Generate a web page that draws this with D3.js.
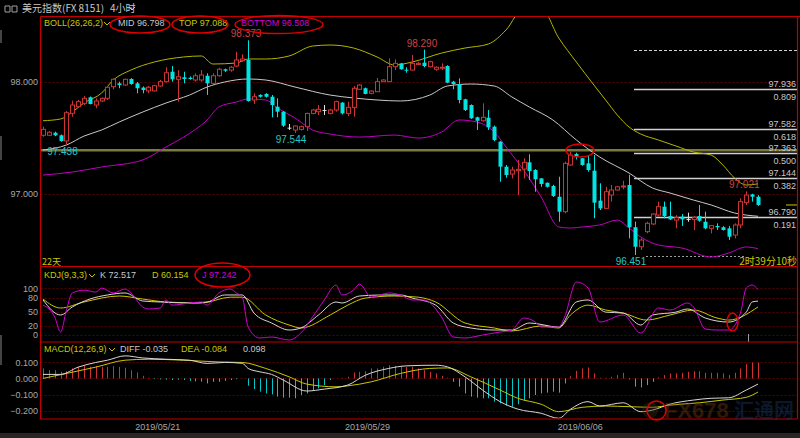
<!DOCTYPE html>
<html><head><meta charset="utf-8">
<script src="https://cdn.jsdelivr.net/npm/d3@7"></script>
<style>
html,body{margin:0;padding:0;background:#000;overflow:hidden}
svg{display:block}
text{font-family:"Liberation Sans",Arial,sans-serif;font-size:9px}
</style></head><body>
<svg id="c" width="800" height="438"></svg>
<script>
// ---------- DATA ----------
const opens=[97.523,97.523,97.546,97.523,97.472,97.720,97.779,97.809,97.863,97.794,97.830,97.854,97.958,97.988,97.973,98.027,97.988,97.950,97.920,97.920,97.964,98.003,98.092,98.024,98.042,98.038,98.018,98.018,98.056,97.988,98.056,98.114,98.107,98.143,98.191,98.197,97.839,97.884,97.893,97.868,97.779,97.734,97.591,97.570,97.576,97.600,97.719,97.734,97.749,97.719,97.749,97.815,97.719,97.773,97.935,97.944,97.899,97.913,98.003,98.003,98.137,98.167,98.110,98.107,98.157,98.173,98.137,98.114,98.128,98.143,98.003,97.982,97.845,97.794,97.684,97.653,97.680,97.600,97.466,97.242,97.176,97.206,97.221,97.281,97.212,97.137,97.098,97.069,96.973,96.839,97.257,97.355,97.317,97.272,97.206,96.938,96.869,96.988,97.033,97.065,97.078,96.700,96.525,96.660,96.729,96.809,96.884,96.800,96.764,96.794,96.773,96.770,96.800,96.749,96.690,96.711,96.700,96.690,96.630,96.720,96.920,96.994,96.973];
const highs=[97.600,97.560,97.555,97.530,97.740,97.833,97.840,97.874,97.870,97.854,97.860,97.964,98.033,98.003,98.030,98.035,98.000,97.960,97.964,97.975,98.018,98.132,98.143,98.107,98.092,98.050,98.078,98.107,98.078,98.078,98.128,98.120,98.143,98.271,98.248,98.373,97.899,97.890,97.900,97.884,97.854,97.740,97.624,97.610,97.610,97.725,97.760,97.794,97.794,97.760,97.833,97.820,97.824,97.964,97.980,97.950,97.925,98.036,98.025,98.212,98.203,98.170,98.132,98.242,98.180,98.290,98.190,98.140,98.167,98.150,98.010,98.033,97.850,97.800,97.690,97.809,97.749,97.610,97.470,97.257,97.242,97.302,97.317,97.353,97.220,97.140,97.100,97.080,97.152,97.287,97.376,97.367,97.320,97.346,97.346,97.093,97.062,97.078,97.070,97.116,97.170,96.750,96.600,96.749,96.825,96.929,96.929,96.929,96.809,96.818,96.830,96.800,96.899,96.839,96.720,96.735,96.710,96.711,96.735,96.959,97.021,97.000,96.988];
const lows=[97.510,97.515,97.515,97.465,97.438,97.689,97.770,97.794,97.800,97.765,97.820,97.839,97.935,97.944,97.965,97.975,97.899,97.899,97.899,97.915,97.958,97.994,98.003,97.824,97.988,98.020,98.003,98.003,97.884,97.982,98.047,98.090,98.092,98.132,98.180,97.824,97.803,97.860,97.860,97.684,97.684,97.597,97.570,97.544,97.565,97.561,97.710,97.705,97.705,97.710,97.734,97.710,97.696,97.689,97.930,97.890,97.890,97.910,98.000,98.000,98.107,98.110,98.083,98.105,98.150,98.132,98.130,98.100,98.107,97.990,97.935,97.809,97.740,97.670,97.570,97.645,97.570,97.470,97.107,97.143,97.137,96.988,97.137,97.123,97.018,97.062,97.055,96.970,96.749,96.824,97.250,97.307,97.250,97.197,96.780,96.854,96.865,96.930,97.030,97.040,96.600,96.451,96.496,96.645,96.720,96.794,96.780,96.764,96.690,96.711,96.749,96.675,96.749,96.681,96.645,96.675,96.670,96.585,96.600,96.690,96.899,96.929,96.890];
const closes=[97.576,97.550,97.523,97.472,97.725,97.794,97.824,97.854,97.803,97.830,97.854,97.953,98.024,97.973,98.024,97.982,97.944,97.928,97.953,97.967,98.003,98.083,98.024,98.047,98.027,98.027,98.056,98.063,97.988,98.056,98.114,98.101,98.132,98.197,98.206,97.830,97.868,97.868,97.868,97.794,97.734,97.609,97.591,97.606,97.600,97.719,97.749,97.755,97.749,97.749,97.824,97.719,97.773,97.944,97.973,97.893,97.919,98.003,98.018,98.137,98.167,98.114,98.107,98.167,98.167,98.143,98.182,98.132,98.132,97.994,97.982,97.839,97.749,97.675,97.653,97.684,97.594,97.480,97.242,97.167,97.212,97.218,97.281,97.203,97.129,97.087,97.062,96.979,96.839,97.272,97.346,97.331,97.257,97.212,96.920,96.869,97.018,97.033,97.062,97.069,96.700,96.525,96.585,96.735,96.818,96.884,96.800,96.770,96.785,96.770,96.773,96.788,96.758,96.690,96.714,96.700,96.675,96.615,96.720,96.929,96.988,96.973,96.899];

// Bollinger bands: [candle index, value]
const bollUpper=[[0,97.653],[3,97.669],[5,97.731],[7,97.812],[10,97.901],[12,98.018],[15,98.107],[19,98.179],[24,98.224],[27,98.233],[29,98.161],[33,98.170],[35,98.206],[38,98.206],[42,98.233],[46,98.322],[49,98.331],[53,98.304],[57,98.224],[60,98.152],[63,98.179],[68,98.259],[72,98.304],[76,98.340],[79,98.465],[82,98.66],[85,98.66],[88,98.394],[91,98.179],[94,97.973],[96,97.839],[98,97.704],[100,97.597],[102,97.534],[105,97.481],[108,97.427],[111,97.373],[114,97.346],[116,97.257],[118,97.140],[120,97.078],[122,97.088]];
const bollMid=[[0,97.391],[4,97.436],[7,97.516],[10,97.570],[13,97.642],[17,97.731],[21,97.812],[25,97.883],[28,97.955],[31,98.000],[35,98.027],[38,98.018],[43,97.955],[49,97.883],[53,97.857],[57,97.839],[61,97.830],[66,97.883],[69,97.964],[73,97.982],[77,97.964],[80,97.866],[83,97.776],[87,97.660],[91,97.481],[95,97.328],[100,97.185],[104,97.051],[107,97.006],[111,96.943],[114,96.899],[118,96.827],[122,96.798]];
const bollLower=[[0,97.167],[5,97.194],[10,97.239],[17,97.302],[21,97.418],[24,97.507],[28,97.660],[30,97.776],[33,97.821],[35,97.848],[38,97.839],[40,97.767],[43,97.678],[46,97.570],[49,97.534],[54,97.507],[60,97.525],[64,97.498],[68,97.552],[71,97.660],[74,97.642],[77,97.552],[79,97.418],[82,97.212],[85,96.970],[88,96.702],[90,96.693],[92,96.702],[95,96.720],[98,96.764],[100,96.693],[102,96.612],[105,96.541],[109,96.514],[114,96.433],[117,96.469],[120,96.523],[122,96.508]];

// KDJ(9,3,3)
const kdjK=[[0,75],[3,42.8],[5,60],[8,77],[11,85.7],[14,90],[17,72.8],[20,70.7],[25,68.5],[28,70.7],[31,85.7],[34,85.7],[36,47],[39,25.7],[42,10.7],[44,15],[47,42.8],[50,70.7],[51,68.5],[54,83.5],[58,85.7],[61,85.7],[63,79],[67,64],[70,25.7],[73,15],[77,10.7],[80,10.7],[83,25.7],[88,17],[91,70.7],[93,75],[96,49],[99,47],[102,21.4],[104,42.8],[108,49],[110,55.7],[113,36.4],[117,27.8],[120,49],[121,70.7],[122,72.517]];
const kdjD=[[0,77],[3,57.8],[7,70.7],[13,83.5],[17,77],[21,70.7],[27,68.5],[32,81],[34,81],[38,42.8],[42,21.4],[44,15],[49,42.8],[52,64],[55,79],[60,83.5],[64,81],[67,70.7],[72,25.7],[77,15],[80,8.6],[85,19.3],[88,15],[90,42.8],[93,64],[96,53.5],[99,47],[103,32],[107,42.8],[111,53.5],[115,36.4],[117,32],[122,60.154]];
const kdjJ=[[0,64],[2,38.5],[3,6.4],[4,53.5],[5,90],[7,96],[9,92],[10,100.6],[12,90],[14,98.5],[15,90],[17,60],[18,55.7],[20,57.8],[21,75],[22,64],[25,68.5],[27,70.7],[28,64],[30,90],[32,98.5],[33,90],[34,81],[35,17],[37,-6.4],[39,-4.3],[42,-10.7],[44,4.3],[46,38.5],[48,75],[50,107],[51,85.7],[53,96.4],[54,109],[56,81],[59,90],[61,85.7],[63,75],[65,75],[68,38.5],[70,-4.3],[72,-6.4],[75,0],[78,6.4],[80,10.7],[82,36.4],[84,27.8],[85,17],[88,17],[89,38.5],[91,113.5],[93,100.6],[95,27.8],[99,42.8],[102,4.3],[105,57.8],[107,53.5],[110,68.5],[111,60],[113,12.8],[115,10.7],[117,10.7],[119,47],[120,100.6],[121,107],[122,97.242]];

// MACD(12,26,9)
const macdDiff=[[0,0.025],[3,0.025],[6,0.070],[9,0.099],[11,0.113],[14,0.140],[17,0.127],[21,0.119],[25,0.113],[28,0.093],[31,0.099],[34,0.094],[35,0.062],[37,0.041],[39,0.025],[41,-0.010],[45,-0.078],[48,-0.066],[52,-0.041],[55,0.020],[59,0.062],[62,0.078],[67,0.082],[69,0.072],[72,0.010],[75,-0.072],[78,-0.144],[81,-0.190],[85,-0.216],[88,-0.247],[90,-0.191],[93,-0.144],[95,-0.171],[99,-0.151],[102,-0.206],[104,-0.196],[107,-0.159],[111,-0.134],[114,-0.123],[117,-0.120],[120,-0.072],[122,-0.035]];
const macdDea=[[0,0.000],[4,0.031],[9,0.070],[14,0.113],[18,0.119],[24,0.113],[30,0.102],[34,0.099],[38,0.062],[42,0.010],[45,-0.035],[50,-0.052],[52,-0.046],[56,-0.021],[61,0.031],[66,0.062],[69,0.065],[73,0.010],[78,-0.072],[81,-0.123],[85,-0.160],[88,-0.206],[92,-0.179],[96,-0.171],[100,-0.175],[104,-0.179],[107,-0.165],[112,-0.151],[116,-0.134],[120,-0.117],[122,-0.084]];
const macdHist=[0.062,0.051,0.051,0.041,0.045,0.062,0.072,0.078,0.072,0.078,0.072,0.072,0.076,0.072,0.066,0.051,0.037,0.016,0.004,-0.004,-0.006,-0.008,-0.010,-0.008,-0.010,-0.015,-0.018,-0.020,-0.031,-0.021,-0.021,-0.015,-0.010,-0.005,0.000,-0.045,-0.066,-0.082,-0.093,-0.099,-0.113,-0.119,-0.119,-0.123,-0.103,-0.093,-0.072,-0.062,-0.041,-0.010,0.000,0.004,0.010,0.037,0.041,0.045,0.062,0.062,0.072,0.082,0.078,0.078,0.072,0.072,0.062,0.051,0.041,0.031,0.016,0.004,-0.021,-0.051,-0.093,-0.113,-0.119,-0.123,-0.123,-0.144,-0.154,-0.169,-0.175,-0.160,-0.134,-0.123,-0.103,-0.093,-0.088,-0.082,-0.088,-0.031,0.014,0.047,0.062,0.068,0.031,0.004,0.004,0.010,0.021,0.035,-0.006,-0.051,-0.056,-0.041,-0.021,0.006,0.021,0.031,0.031,0.035,0.041,0.045,0.045,0.035,0.035,0.035,0.031,0.021,0.035,0.062,0.088,0.099,0.098];

// ticks / labels
const priceTicks=[97,98];
const kdjTicks=[100,80,50,20,0];
const macdTicks=[0.1,0,-0.1,-0.2];
const dateTickIdx=[19.5,55.3,91.6];
const dateTickLabels=["2019/05/21","2019/05/29","2019/06/06"];
const fibValues=[97.936,97.582,97.363,97.144,96.790];
const fibRatios=["0.809","0.618","0.500","0.382","0.191"];
const fibHigh=98.290, fibLow=96.451;
const hLineValue=97.388;
const extremes=[{i:35,v:98.373,t:"h"},{i:65,v:98.290,t:"h"},{i:120,v:97.021,t:"h"},{i:4,v:97.438,t:"l"},{i:43,v:97.544,t:"l"},{i:101,v:96.451,t:"l"}];
const bollHeader={mid:"96.798",top:"97.088",bottom:"96.508"};
const kdjHeader={k:"72.517",d:"60.154",j:"97.242"};
const macdHeader={diff:"-0.035",dea:"-0.084",macd:"0.098"};

// ---------- DRAW ----------
const svg=d3.select("#c");
const RED="#c00000", UP="#cc3535", DN="#00e4e4", GRID="#5a0000";
const L=40.5, R=797.5;
const x=d3.scaleLinear().domain([0,122]).range([43,758]);
const yP=d3.scaleLinear().domain([97,98]).range([193.7,82]);
const yK=d3.scaleLinear().domain([0,100]).range([335,288.3]);
const yM=d3.scaleLinear().domain([-0.2,0.1]).range([410.7,362.3]);

svg.append("rect").attr("width",800).attr("height",438).attr("fill","#000");
svg.append("rect").attr("x",0).attr("y",433).attr("width",800).attr("height",5).attr("fill","#262626");
svg.append("path").attr("d","M1,30V43M1,136V160M1,335V365").attr("stroke","#444").attr("stroke-width",2);

const defs=svg.append("defs");
defs.append("clipPath").attr("id","cpP").append("rect").attr("x",41).attr("y",17).attr("width",756).attr("height",249);
defs.append("clipPath").attr("id","cpK").append("rect").attr("x",41).attr("y",267).attr("width",756).attr("height",74.5);
defs.append("clipPath").attr("id","cpM").append("rect").attr("x",41).attr("y",342.5).attr("width",756).attr("height",76);

function grid(vals,sc){vals.forEach(v=>svg.append("line").attr("x1",L).attr("x2",R).attr("y1",Math.round(sc(v))+0.5).attr("y2",Math.round(sc(v))+0.5).attr("stroke",GRID).attr("stroke-dasharray","2,2"));}
grid(priceTicks,yP);grid(kdjTicks,yK);grid(macdTicks,yM);

function leftAxis(sc,vals,fmt){
  const g=svg.append("g").attr("transform","translate(39,0)").call(d3.axisLeft(sc).tickValues(vals).tickSize(0).tickPadding(1).tickFormat(fmt));
  g.select(".domain").remove();
  g.selectAll("text").attr("fill","#a8a8a8").style("font-size","9px").style("font-family","Liberation Sans");
}
leftAxis(yP,priceTicks,d3.format(".3f"));
leftAxis(yK,kdjTicks,d3.format("d"));
leftAxis(yM,macdTicks,d3.format(".3f"));

const gx=svg.append("g").attr("transform","translate(0,422)").call(d3.axisBottom(x).tickValues(dateTickIdx).tickSize(0).tickPadding(2).tickFormat((d,i)=>dateTickLabels[i]));
gx.select(".domain").remove();
gx.selectAll("text").attr("fill","#a8a8a8").style("font-size","9px");

// ---- price panel ----
const gp=svg.append("g").attr("clip-path","url(#cpP)");
gp.append("line").attr("x1",L).attr("x2",R).attr("y1",yP(hLineValue)).attr("y2",yP(hLineValue)).attr("stroke","#7a7a3c").attr("stroke-width",2.5);
fibValues.forEach((v,k)=>{
  const yy=Math.round(yP(v))+0.5;
  gp.append("line").attr("x1",634).attr("x2",R).attr("y1",yy).attr("y2",yy).attr("stroke","#d0d0d0").attr("stroke-width",1.3);
  svg.append("text").attr("x",796).attr("y",yy-3).attr("text-anchor","end").attr("fill","#c8c8c8").text(v.toFixed(3));
  svg.append("text").attr("x",796).attr("y",yy+10).attr("text-anchor","end").attr("fill","#c8c8c8").text(fibRatios[k]);
});
gp.append("line").attr("x1",634).attr("x2",R).attr("y1",Math.round(yP(fibHigh))+0.5).attr("y2",Math.round(yP(fibHigh))+0.5).attr("stroke","#d0d0d0").attr("stroke-dasharray","3,2");
gp.append("line").attr("x1",646).attr("x2",746).attr("y1",Math.round(yP(fibLow))+1.5).attr("y2",Math.round(yP(fibLow))+1.5).attr("stroke","#9a9a9a").attr("stroke-dasharray","2,2");

const lineP=d3.line().x(d=>x(d[0])).y(d=>yP(d[1])).curve(d3.curveMonotoneX);
gp.append("path").attr("d",lineP(bollUpper)).attr("fill","none").attr("stroke","#b4b400").attr("stroke-width",1);
gp.append("path").attr("d",lineP(bollMid)).attr("fill","none").attr("stroke","#c8c8c8").attr("stroke-width",1);
gp.append("path").attr("d",lineP(bollLower)).attr("fill","none").attr("stroke","#c000c0").attr("stroke-width",1);

const idx=d3.range(opens.length);
const col=i=>closes[i]>opens[i]?UP:(closes[i]<opens[i]?DN:"#e0e0e0");
const cg=gp.append("g");
cg.selectAll("line.w").data(idx).join("line").attr("class","w")
  .attr("x1",i=>Math.round(x(i))+0.5).attr("x2",i=>Math.round(x(i))+0.5)
  .attr("y1",i=>yP(highs[i])).attr("y2",i=>yP(lows[i])).attr("stroke",col);
cg.selectAll("rect.b").data(idx).join("rect").attr("class","b")
  .attr("x",i=>Math.round(x(i))-1.5).attr("width",4)
  .attr("y",i=>yP(Math.max(opens[i],closes[i])))
  .attr("height",i=>Math.max(1,Math.abs(yP(opens[i])-yP(closes[i]))))
  .attr("fill",i=>closes[i]>opens[i]?"#000":col(i))
  .attr("stroke",i=>closes[i]>opens[i]?UP:"none");

svg.append("line").attr("x1",786).attr("x2",R).attr("y1",yP(closes[closes.length-1])).attr("y2",yP(closes[closes.length-1])).attr("stroke","#c8c800");

extremes.forEach(e=>{
  const hi=e.t==="h";
  svg.append("text").attr("x",x(e.i)-(hi?2:4)).attr("y",hi?yP(e.v)-3:yP(e.v)+10).attr("text-anchor","middle")
    .attr("fill",hi?"#d04040":"#20c8c8").style("font-size","10px").text(e.v.toFixed(3));
});

// ---- KDJ ----
const gk=svg.append("g").attr("clip-path","url(#cpK)");
const lineK=d3.line().x(d=>x(d[0])).y(d=>yK(d[1])).curve(d3.curveMonotoneX);
gk.append("path").attr("d",lineK(kdjD)).attr("fill","none").attr("stroke","#c8c800");
gk.append("path").attr("d",lineK(kdjK)).attr("fill","none").attr("stroke","#d8d8d8");
gk.append("path").attr("d",lineK(kdjJ)).attr("fill","none").attr("stroke","#d000d0");
svg.append("line").attr("x1",748.5).attr("x2",748.5).attr("y1",334).attr("y2",342).attr("stroke","#9a9a9a");

// ---- MACD ----
const gm=svg.append("g").attr("clip-path","url(#cpM)");
gm.selectAll("line.h").data(macdHist).join("line").attr("class","h")
  .attr("x1",(d,i)=>Math.round(x(i))+0.5).attr("x2",(d,i)=>Math.round(x(i))+0.5)
  .attr("y1",yM(0)).attr("y2",d=>yM(d)).attr("stroke",d=>d>=0?"#d03030":"#00c8c8");
const lineM=d3.line().x(d=>x(d[0])).y(d=>yM(d[1])).curve(d3.curveMonotoneX);
gm.append("path").attr("d",lineM(macdDea)).attr("fill","none").attr("stroke","#c8c800");
gm.append("path").attr("d",lineM(macdDiff)).attr("fill","none").attr("stroke","#d8d8d8");

svg.append("path").attr("d",`M${L},16.5H800M${L},266.5H${R}M${L},342H${R}M${L},419H${R}M${L},16.5V419M${R},16.5V419`)
  .attr("fill","none").attr("stroke",RED).attr("stroke-width",1.2);

// ---- headers ----
function chev(x0,y0,c){svg.append("path").attr("d",`M${x0},${y0}l3,3l3,-3`).attr("fill","none").attr("stroke",c).attr("stroke-width",1);}
svg.append("path").attr("d","M5,6h5v6h-5zM12,6h5v6h-5z").attr("fill","none").attr("stroke","#a0a0a0");
svg.append("text").attr("x",22).attr("y",11.5).attr("fill","#c8c8c8").style("font-family","Noto Sans CJK SC").style("font-size","10px").text("美元指数(FX 8151)");
svg.append("text").attr("x",110).attr("y",11.5).attr("fill","#c8c8c8").style("font-family","Noto Sans CJK SC").style("font-size","10px").text("4小时");
chev(129,7,"#c8c8c8");

svg.append("text").attr("x",44).attr("y",26).attr("fill","#c8c800").text("BOLL(26,26,2)");chev(104,22,"#c8c800");
svg.append("text").attr("x",118).attr("y",26).attr("fill","#c8c8c8").text("MID "+bollHeader.mid);
svg.append("text").attr("x",179).attr("y",26).attr("fill","#c8c800").text("TOP "+bollHeader.top);
svg.append("text").attr("x",241).attr("y",26).attr("fill","#d000d0").text("BOTTOM "+bollHeader.bottom);

svg.append("text").attr("x",42).attr("y",265).attr("fill","#c8c800").style("font-family","Noto Sans CJK SC").style("font-size","9px").text("22天");
svg.append("text").attr("x",797).attr("y",265).attr("text-anchor","end").attr("fill","#c8c800").style("font-family","Noto Sans CJK SC").style("font-size","10px").text("2时39分10秒");

svg.append("text").attr("x",44).attr("y",278).attr("fill","#c8c800").text("KDJ(9,3,3)");chev(89,274,"#c8c800");
svg.append("text").attr("x",100).attr("y",278).attr("fill","#c8c8c8").text("K "+kdjHeader.k);
svg.append("text").attr("x",152).attr("y",278).attr("fill","#c8c800").text("D "+kdjHeader.d);
svg.append("text").attr("x",202).attr("y",278).attr("fill","#d000d0").text("J "+kdjHeader.j);

svg.append("text").attr("x",44).attr("y",352).attr("fill","#c8c800").text("MACD(12,26,9)");chev(109,348,"#c8c800");
svg.append("text").attr("x",120).attr("y",352).attr("fill","#c8c8c8").text("DIFF "+macdHeader.diff);
svg.append("text").attr("x",181).attr("y",352).attr("fill","#c8c800").text("DEA "+macdHeader.dea);
svg.append("text").attr("x",243).attr("y",352).attr("fill","#c8c8c8").text(macdHeader.macd);

const wm=svg.append("g").attr("opacity",0.4);
wm.append("circle").attr("cx",650).attr("cy",410).attr("r",8).attr("fill","#3a2a10");
wm.append("text").attr("x",664).attr("y",418).attr("fill","#7a3a10").style("font-size","22px").style("font-weight","bold").text("FX678");
wm.append("text").attr("x",734).attr("y",418).attr("fill","#1e3a6a").style("font-family","Noto Sans CJK SC").style("font-size","20px").style("font-weight","bold").text("汇通网");

const ells=[[140,24.5,30,8.5],[200,24.5,28,8.5],[279,24.5,44,9],[222.5,275,27.5,12],[580,150.5,14,6.5],[732.5,322,5.5,9],[656.5,410.5,9.5,9.5]];
ells.forEach(e=>svg.append("ellipse").attr("cx",e[0]).attr("cy",e[1]).attr("rx",e[2]).attr("ry",e[3]).attr("fill","none").attr("stroke","#e00000").attr("stroke-width",1.5));
</script></body></html>
